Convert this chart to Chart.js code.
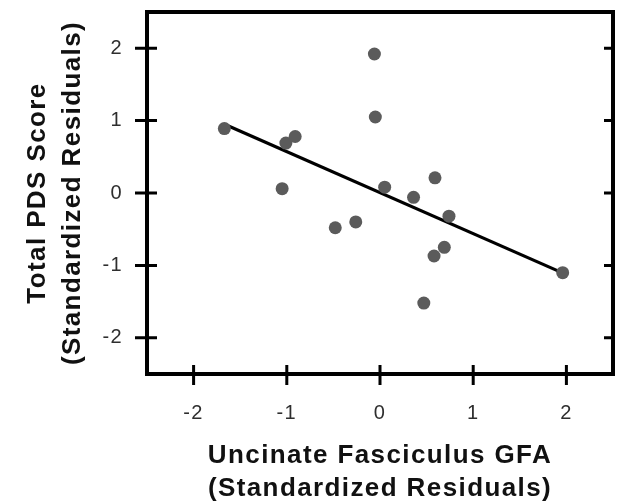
<!DOCTYPE html>
<html>
<head>
<meta charset="utf-8">
<script src="https://cdn.jsdelivr.net/npm/chart.js@4/dist/chart.umd.min.js"></script>
<style>
  html, body { margin: 0; padding: 0; background: #fff; }
  #wrap { width: 621px; height: 503px; position: relative; }
</style>
</head>
<body>
<div id="wrap"><canvas id="gfa-chart"></canvas></div>
<script>
// Standardized residuals for each subject
const gfaResiduals = [-1.67, -1.01, -0.91, -1.05, -0.06, -0.05, -0.48, -0.26, 0.05, 0.36, 0.59, 0.74, 0.69, 0.58, 0.47, 1.96];
const pdsResiduals = [0.89, 0.69, 0.78, 0.06, 1.92, 1.05, -0.48, -0.40, 0.08, -0.06, 0.21, -0.32, -0.75, -0.87, -1.52, -1.10];

// Fitted regression line end points
const fitX = [-1.65, 1.97];
const fitY = [0.94, -1.11];

const tickValues = [-2, -1, 0, 1, 2];

const xTitle = ['Uncinate Fasciculus GFA', '(Standardized Residuals)'];
const yTitle = ['Total PDS Score', '(Standardized Residuals)'];

const FONT = "'Liberation Sans', Arial, sans-serif";

// Slightly wider lettering for all chart text
const spacingPlugin = {
    id: 'spacing',
    beforeDraw(chart) {
        chart.ctx.letterSpacing = '1.4px';
    }
};

// Thick box around the plot with ticks crossing the left and bottom edges
const framePlugin = {
    id: 'frame',
    afterDraw(chart) {
        const { ctx, chartArea: a, scales } = chart;
        ctx.save();
        ctx.strokeStyle = '#000';
        ctx.lineCap = 'butt';

        ctx.lineWidth = 3;
        ctx.beginPath();
        tickValues.forEach(v => {
            const px = scales.x.getPixelForValue(v);
            ctx.moveTo(px, a.bottom - 9);
            ctx.lineTo(px, a.bottom + 11);
            const py = scales.y.getPixelForValue(v);
            ctx.moveTo(a.left - 12, py);
            ctx.lineTo(a.left + 10, py);
            ctx.moveTo(a.right - 9, py);
            ctx.lineTo(a.right, py);
        });
        ctx.stroke();

        ctx.lineWidth = 4;
        ctx.lineJoin = 'miter';
        ctx.strokeRect(a.left, a.top, a.right - a.left, a.bottom - a.top);
        ctx.restore();
    }
};

const ctx = document.getElementById('gfa-chart').getContext('2d');
const points = gfaResiduals.map((x, i) => ({ x: x, y: pdsResiduals[i] }));
const fitLine = fitX.map((x, i) => ({ x: x, y: fitY[i] }));

new Chart(ctx, {
    type: 'scatter',
    data: {
        datasets: [
            {
                data: fitLine,
                showLine: true,
                borderColor: '#000',
                borderWidth: 3.2,
                pointRadius: 0,
                order: 2
            },
            {
                data: points,
                backgroundColor: '#5b5b5b',
                borderWidth: 0,
                pointRadius: 6.5,
                order: 1
            }
        ]
    },
    options: {
        responsive: true,
        maintainAspectRatio: false,
        animation: false,
        layout: { padding: { top: 11, right: 8, left: 0, bottom: 0 } },
        plugins: {
            legend: { display: false },
            tooltip: { enabled: false }
        },
        scales: {
            x: {
                type: 'linear',
                min: -2.5,
                max: 2.5,
                afterBuildTicks: s => { s.ticks = tickValues.map(v => ({ value: v })); },
                afterFit: s => { s.height = 129; },
                grid: { display: false, drawTicks: true, tickLength: 27 },
                border: { display: false },
                ticks: {
                    padding: 0,
                    color: '#2e2e2e',
                    font: { family: FONT, size: 20 }
                },
                title: {
                    display: true,
                    text: xTitle,
                    color: '#111',
                    padding: { top: 0, bottom: -2 },
                    font: { family: FONT, size: 26, weight: 'bold', lineHeight: 1.25 }
                }
            },
            y: {
                type: 'linear',
                min: -2.5,
                max: 2.5,
                afterBuildTicks: s => { s.ticks = tickValues.map(v => ({ value: v })); },
                afterFit: s => { s.width = 147; },
                grid: { display: false, drawTicks: true, tickLength: 24 },
                border: { display: false },
                ticks: {
                    padding: 0,
                    color: '#2e2e2e',
                    font: { family: FONT, size: 20 }
                },
                title: {
                    display: true,
                    text: yTitle,
                    color: '#111',
                    padding: { top: 20, bottom: 0 },
                    font: { family: FONT, size: 26, weight: 'bold', lineHeight: 1.35 }
                }
            }
        }
    },
    plugins: [spacingPlugin, framePlugin]
});
</script>
</body>
</html>
